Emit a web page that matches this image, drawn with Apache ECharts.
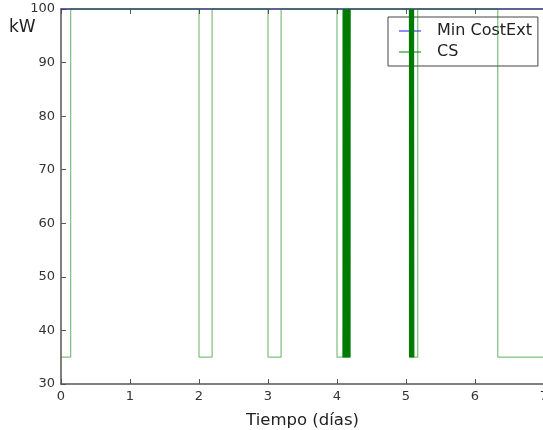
<!DOCTYPE html>
<html>
<head>
<meta charset="utf-8">
<script src="https://cdn.jsdelivr.net/npm/echarts@6/dist/echarts.min.js"></script>
<style>
html,body{margin:0;padding:0;background:#fff;}
#c{width:543px;height:430px;}
</style>
</head>
<body>
<div id="c"></div>
<script>
var xTicks = [0, 1, 2, 3, 4, 5, 6, 7];
var yTicks = [30, 40, 50, 60, 70, 80, 90, 100];
var minCostTimes = [0, 7];
var minCostValues = [100, 100];
var csTimes = [0, 0.14, 2.0, 2.19, 3.0, 3.19, 4.0, 4.09, 4.19, 5.05, 5.12, 5.17, 6.33, 7.0];
var csValues = [35, 100, 35, 100, 35, 100, 35, 35, 100, 35, 35, 100, 35, 35];
// rapid switching bursts (dense on/off around day 4 and day 5)
var burst4Times = [4.085, 4.09, 4.095, 4.10, 4.105, 4.11, 4.115, 4.12, 4.125, 4.13, 4.135, 4.14, 4.145, 4.15,
                   4.155, 4.16, 4.165, 4.17, 4.175, 4.18, 4.185, 4.19, 4.195];
var burst4Values = [35, 100, 35, 100, 35, 100, 35, 100, 35, 100, 35, 100, 35, 100,
                    35, 100, 35, 100, 35, 100, 35, 100, 100];
var burst5Times = [5.05, 5.055, 5.06, 5.065, 5.07, 5.075, 5.08, 5.085, 5.09, 5.095, 5.10, 5.105, 5.11, 5.115, 5.12];
var burst5Values = [100, 35, 100, 35, 100, 35, 100, 35, 100, 35, 100, 35, 100, 35, 35];

function pairs(t, v) { return t.map(function (x, i) { return [x, v[i]]; }); }

var font = 'DejaVu Sans';
var chart = echarts.init(document.getElementById('c'));
chart.setOption({
  animation: false,
  backgroundColor: '#fff',
  grid: { left: 61, top: 9, bottom: 46, width: 483, containLabel: false, outerBoundsMode: 'none' },
  xAxis: [{
    type: 'value', min: xTicks[0], max: xTicks[xTicks.length - 1], interval: 1,
    name: 'Tiempo (días)', nameLocation: 'middle', nameGap: 28,
    nameTextStyle: { fontFamily: font, fontSize: 16.5, color: '#222' },
    axisLine: { lineStyle: { color: '#555', width: 1.5 } },
    axisTick: { inside: true, length: 5, lineStyle: { color: '#555' } },
    axisLabel: { fontFamily: font, fontSize: 13, color: '#333', margin: 6 },
    splitLine: { show: false }
  }, {
    type: 'value', position: 'top', min: xTicks[0], max: xTicks[xTicks.length - 1], interval: 1,
    axisLine: { show: true, lineStyle: { color: '#555', width: 1.5 } },
    axisTick: { inside: true, length: 5, lineStyle: { color: '#555' } },
    axisLabel: { show: false }, splitLine: { show: false }
  }],
  yAxis: [{
    type: 'value', min: yTicks[0], max: yTicks[yTicks.length - 1], interval: 10,
    axisLine: { show: true, lineStyle: { color: '#555', width: 1.5 } },
    axisTick: { show: true, inside: true, length: 5, lineStyle: { color: '#555' } },
    axisLabel: { fontFamily: font, fontSize: 13, color: '#333', margin: 6 },
    splitLine: { show: false }
  }],
  graphic: [{
    type: 'text', left: 9, top: 19,
    style: { text: 'kW', font: '17px "DejaVu Sans"', fill: '#222' }
  }],
  legend: {
    orient: 'vertical', left: 388, top: 17,
    backgroundColor: '#fff', borderColor: '#444', borderWidth: 1, borderRadius: 0,
    padding: [6, 6, 6, 11], itemGap: 5, itemWidth: 22, itemHeight: 2, icon: 'rect',
    textStyle: { fontFamily: font, fontSize: 16, color: '#222', padding: [0, 0, 0, 11] },
    data: [{ name: 'Min CostExt' }, { name: 'CS' }]
  },
  series: [{
    name: 'Min CostExt', type: 'line', data: pairs(minCostTimes, minCostValues),
    showSymbol: false, symbol: 'none', clip: false,
    lineStyle: { color: 'rgba(0,0,255,0.45)', width: 1.2 },
    itemStyle: { color: 'rgba(0,0,255,0.45)' }, z: 3
  }, {
    name: 'CS', type: 'line', step: 'end', data: pairs(csTimes, csValues),
    showSymbol: false, symbol: 'none', clip: false,
    lineStyle: { color: 'rgba(0,128,0,0.5)', width: 1.2 },
    itemStyle: { color: 'rgba(0,128,0,0.5)' }, z: 4
  }, {
    name: 'CS', type: 'line', step: 'end', data: pairs(burst4Times, burst4Values),
    showSymbol: false, symbol: 'none', clip: false,
    lineStyle: { color: '#007a00', width: 1 }, itemStyle: { color: 'rgba(0,128,0,0.5)' }, z: 5
  }, {
    name: 'CS', type: 'line', step: 'end', data: pairs(burst5Times, burst5Values),
    showSymbol: false, symbol: 'none', clip: false,
    lineStyle: { color: '#007a00', width: 1 }, itemStyle: { color: 'rgba(0,128,0,0.5)' }, z: 5
  }]
});
</script>
</body>
</html>
